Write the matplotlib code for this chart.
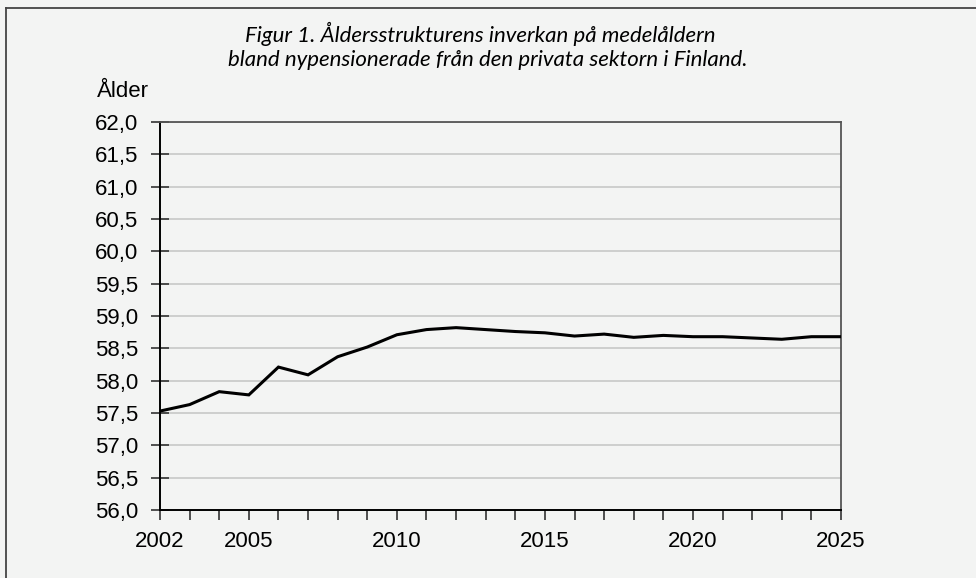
import matplotlib
matplotlib.use("Agg")
import matplotlib.pyplot as plt
from matplotlib.lines import Line2D
from matplotlib.ticker import FixedLocator, MultipleLocator, FuncFormatter

years = list(range(2002, 2026))
medelalder = [57.53, 57.63, 57.83, 57.78, 58.21, 58.09, 58.37, 58.52,
              58.71, 58.79, 58.82, 58.79, 58.76, 58.74, 58.69, 58.72,
              58.67, 58.70, 58.68, 58.68, 58.66, 58.64, 58.68, 58.68]
xtick_labels = [2002, 2005, 2010, 2015, 2020, 2025]
title_lines = ["Figur 1. Åldersstrukturens inverkan på medelåldern",
               "bland nypensionerade från den privata sektorn i Finland."]
ylabel = "Ålder"

bg = "#f3f4f3"
W, H = 976, 578
fig = plt.figure(figsize=(W / 100, H / 100), dpi=100, facecolor=bg)

L, R, T, B = 160, 841, 122, 510
ax = fig.add_axes([L / W, 1 - B / H, (R - L) / W, (B - T) / H], facecolor=bg)

ax.plot(years, medelalder, color="black", lw=2.2, solid_joinstyle="miter", zorder=3)
ax.set_xlim(2002, 2025)
ax.set_ylim(56.0, 62.0)

ax.yaxis.set_major_locator(MultipleLocator(0.5))
ax.yaxis.set_major_formatter(FuncFormatter(lambda v, p: f"{v:.1f}".replace(".", ",")))
ax.xaxis.set_major_locator(FixedLocator(xtick_labels))
ax.xaxis.set_minor_locator(MultipleLocator(1))

fam = ["Liberation Sans", "DejaVu Sans"]
ax.tick_params(axis="y", which="major", direction="inout", length=13, width=1.2,
               color="#333333", pad=9, labelsize=16)
ax.tick_params(axis="x", which="both", direction="out", length=7, width=1.2,
               color="#333333", pad=8, labelsize=16)
for lab in ax.get_yticklabels() + ax.get_xticklabels():
    lab.set_fontfamily(fam)

ax.grid(axis="y", color="#c4c4c4", lw=1.1, zorder=1)
for s in ["left", "bottom"]:
    ax.spines[s].set_color("black")
    ax.spines[s].set_linewidth(1.4)
for s in ["top", "right"]:
    ax.spines[s].set_color("#555555")
    ax.spines[s].set_linewidth(1.3)

# Ylabel at top
fig.text(97 / W, 1 - 97 / H, ylabel, fontsize=16, family=fam,
         ha="left", va="baseline")

# Title
fig.text(480 / W, 1 - 34 / H, title_lines[0], fontsize=16, style="italic",
         family=["Lato", "DejaVu Sans"], ha="center", va="center")
fig.text(488 / W, 1 - 60 / H, title_lines[1], fontsize=16, style="italic",
         family=["Lato", "DejaVu Sans"], ha="center", va="center")

# Outer frame (top and left edges visible)
fig.add_artist(Line2D([6 / W, 1.0], [1 - 8 / H, 1 - 8 / H], color="#444444", lw=1.3,
                      transform=fig.transFigure))
fig.add_artist(Line2D([6 / W, 6 / W], [1 - 8 / H, 0.0], color="#444444", lw=1.3,
                      transform=fig.transFigure))

fig.savefig("out.png", dpi=100, facecolor=bg)
